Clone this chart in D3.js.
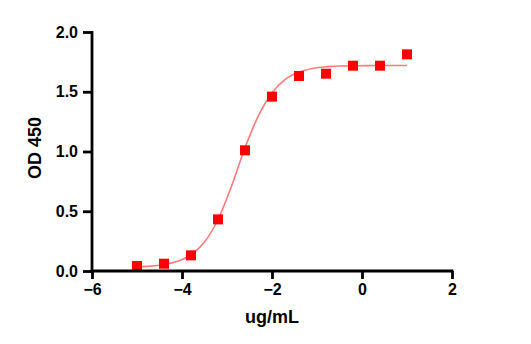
<!DOCTYPE html>
<html>
<head>
<meta charset="utf-8">
<script src="https://cdn.jsdelivr.net/npm/d3@7/dist/d3.min.js"></script>
<style>
  html, body { margin: 0; padding: 0; background: #fff; }
  svg { display: block; }
  text { font-family: "Liberation Sans", Arial, sans-serif; font-weight: bold; fill: #000; }
</style>
</head>
<body>
<svg id="chart" width="531" height="344"></svg>
<script>
// Measured points (log concentration, OD 450)
const logConc = [-5.0, -4.4, -3.8, -3.2, -2.6, -2.0, -1.4, -0.8, -0.2, 0.4, 1.0];
const od450   = [0.042, 0.061, 0.131, 0.432, 1.01, 1.459, 1.632, 1.651, 1.718, 1.718, 1.813];

// Fitted curve
const curveX = [-5.0, -4.7, -4.4, -4.1, -3.8, -3.5, -3.2, -2.9, -2.6, -2.3, -2.0, -1.7, -1.4, -1.1, -0.8, -0.5, -0.2, 0.1, 0.4, 0.7, 1.0];
const curveY = [0.035, 0.041, 0.054, 0.081, 0.136, 0.243, 0.431, 0.709, 1.031, 1.30, 1.49, 1.605, 1.665, 1.695, 1.709, 1.715, 1.717, 1.719, 1.72, 1.72, 1.72];

const xTicks = [-6, -4, -2, 0, 2];
const yTicks = [0.0, 0.5, 1.0, 1.5, 2.0];

const svg = d3.select("#chart");
const x = d3.scaleLinear().domain([-6, 2]).range([92, 452]);
const y = d3.scaleLinear().domain([0, 2]).range([271, 32]);

// curve
const line = d3.line().x((d) => x(d[0])).y((d) => y(d[1])).curve(d3.curveMonotoneX);
svg.append("path")
  .datum(curveX.map((v, i) => [v, curveY[i]]))
  .attr("d", line)
  .attr("fill", "none")
  .attr("stroke", "#ff7b7b")
  .attr("stroke-width", 1.6);

// points
const s = 10;
svg.append("g").selectAll("rect")
  .data(logConc.map((v, i) => [v, od450[i]]))
  .join("rect")
  .attr("x", (d) => x(d[0]) - s / 2)
  .attr("y", (d) => y(d[1]) - s / 2)
  .attr("width", s)
  .attr("height", s)
  .attr("fill", "#ff0000");

// axes
const xAxis = svg.append("g").attr("transform", "translate(0,271)")
  .call(d3.axisBottom(x).tickValues(xTicks).tickSize(8).tickPadding(5).tickFormat(d3.format("d")));
const yAxis = svg.append("g").attr("transform", "translate(92,0)")
  .call(d3.axisLeft(y).tickValues(yTicks).tickSize(9).tickPadding(5).tickFormat(d3.format(".1f")));

[xAxis, yAxis].forEach((g) => {
  g.select(".domain").attr("stroke", "#000").attr("stroke-width", 2.8);
  g.selectAll(".tick line").attr("stroke", "#000").attr("stroke-width", 2.8);
  g.selectAll(".tick text").attr("font-size", 16).attr("font-family", "Liberation Sans, Arial, sans-serif").attr("font-weight", "bold").attr("fill", "#000");
});
xAxis.select(".domain").attr("d", "M90.6,0H453.4");
yAxis.select(".domain").attr("d", "M0,31V272");
xAxis.selectAll(".tick line").attr("y2", 8);

// axis titles
svg.append("text")
  .attr("x", 272).attr("y", 323)
  .attr("text-anchor", "middle")
  .attr("font-size", 18)
  .text("ug/mL");
svg.append("text")
  .attr("transform", "translate(41,148) rotate(-90)")
  .attr("text-anchor", "middle")
  .attr("font-size", 18)
  .text("OD 450");
</script>
</body>
</html>
